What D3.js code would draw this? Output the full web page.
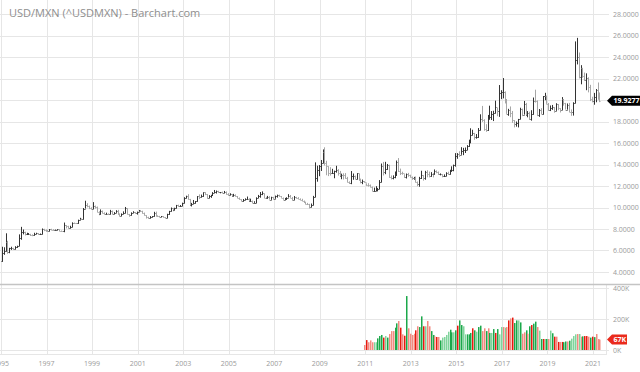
<!DOCTYPE html>
<html>
<head>
<meta charset="utf-8">
<script src="https://cdn.jsdelivr.net/npm/d3@7"></script>
<style>
  body { margin: 0; background: #fff; }
  svg { display: block; font-family: "Open Sans", sans-serif; }
</style>
</head>
<body>
<div id="chart"></div>
<script>
// monthly USD/MXN, Jan 1995 .. Apr 2021 (open = previous close)
const firstOpen = 5.0
const closes = [
  5.78, 5.94, 6.79, 5.85, 6.22, 6.23, 6.13, 6.30, 6.44, 7.13, 7.70, 7.70,
  7.53, 7.55, 7.56, 7.41, 7.40, 7.58, 7.60, 7.50, 7.53, 7.96, 7.91, 7.85,
  7.81, 7.96, 7.94, 7.90, 7.91, 7.96, 7.85, 7.80, 7.79, 8.36, 8.28, 8.07,
  8.18, 8.57, 8.54, 8.52, 8.84, 8.90, 8.89, 9.90, 10.22, 10.14, 9.94, 9.90,
  10.10, 10.05, 9.60, 9.35, 9.70, 9.50, 9.39, 9.40, 9.37, 9.66, 9.42, 9.51,
  9.72, 9.37, 9.24, 9.42, 9.47, 9.92, 9.37, 9.26, 9.51, 9.60, 9.50, 9.61,
  9.69, 9.66, 9.49, 9.27, 9.08, 9.06, 9.14, 9.18, 9.52, 9.24, 9.21, 9.16,
  9.17, 9.11, 9.03, 9.38, 9.65, 9.96, 9.80, 9.94, 10.24, 10.16, 10.16, 10.40,
  10.90, 11.04, 10.79, 10.27, 10.33, 10.45, 10.56, 11.06, 11.00, 11.08, 11.40, 11.24,
  10.92, 11.08, 11.16, 11.39, 11.43, 11.52, 11.40, 11.40, 11.38, 11.47, 11.22, 11.15,
  11.21, 11.09, 11.18, 11.06, 10.91, 10.75, 10.60, 10.73, 10.79, 10.80, 10.62, 10.63,
  10.44, 10.45, 10.89, 11.09, 11.30, 11.32, 10.89, 10.88, 10.99, 10.74, 10.95, 10.82,
  11.04, 11.16, 11.03, 10.92, 10.73, 10.80, 10.92, 11.04, 10.93, 10.71, 10.96, 10.92,
  10.82, 10.73, 10.63, 10.52, 10.32, 10.31, 10.02, 10.26, 10.96, 12.72, 13.49, 13.83,
  14.15, 15.13, 14.17, 13.83, 13.18, 13.17, 13.18, 13.42, 13.50, 13.19, 12.93, 13.06,
  13.01, 12.77, 12.37, 12.27, 12.91, 12.93, 12.67, 13.17, 12.59, 12.35, 12.48, 12.36,
  12.12, 12.08, 11.91, 11.53, 11.56, 11.72, 11.75, 12.36, 13.88, 13.26, 13.62, 13.95,
  12.86, 12.78, 12.81, 13.03, 14.26, 13.37, 13.25, 13.20, 12.85, 13.09, 12.99, 12.85,
  12.71, 12.78, 12.35, 12.16, 12.78, 12.99, 12.76, 13.31, 13.11, 12.89, 13.10, 13.08,
  13.36, 13.27, 13.07, 13.11, 12.89, 12.97, 13.22, 13.07, 13.43, 13.45, 13.91, 14.75,
  15.00, 14.93, 15.26, 15.35, 15.38, 15.71, 16.12, 16.75, 16.91, 16.54, 16.57, 17.25,
  18.20, 18.14, 17.28, 17.18, 18.46, 18.46, 18.74, 18.82, 19.39, 18.94, 20.62, 20.73,
  20.77, 19.98, 18.72, 19.06, 18.82, 18.12, 17.79, 17.82, 18.20, 19.16, 18.61, 19.66,
  18.60, 18.82, 18.20, 18.71, 19.93, 19.90, 18.60, 19.10, 18.71, 20.34, 20.37, 19.65,
  19.04, 19.27, 19.39, 18.98, 19.62, 19.22, 19.06, 20.11, 19.70, 19.11, 19.55, 18.92,
  18.84, 19.76, 23.70, 24.02, 22.18, 22.99, 22.24, 21.86, 22.09, 21.20, 20.11, 19.91,
  20.26, 20.89, 20.43, 19.93
]
const highs = [
  6.35, 6.30, 7.60, 6.90, 6.25, 6.35, 6.25, 6.40, 6.45, 7.50, 8.20, 7.95,
  7.75, 7.65, 7.62, 7.55, 7.50, 7.65, 7.65, 7.62, 7.58, 8.05, 8.02, 7.95,
  7.92, 8.00, 8.02, 7.98, 7.95, 7.98, 7.97, 7.86, 7.82, 8.60, 8.35, 8.30,
  8.30, 8.62, 8.60, 8.56, 8.87, 9.04, 8.97, 9.95, 10.63, 10.40, 10.18, 10.02,
  10.50, 10.18, 10.09, 9.65, 9.82, 9.72, 9.55, 9.52, 9.45, 9.78, 9.72, 9.57,
  9.75, 9.78, 9.45, 9.45, 9.64, 10.05, 9.93, 9.40, 9.55, 9.65, 9.58, 9.62,
  9.77, 9.77, 9.70, 9.53, 9.28, 9.14, 9.20, 9.20, 9.60, 9.62, 9.27, 9.22,
  9.21, 9.19, 9.11, 9.42, 9.69, 10.00, 9.96, 9.98, 10.24, 10.26, 10.23, 10.45,
  10.96, 11.10, 11.24, 10.80, 10.43, 10.70, 10.60, 11.06, 11.22, 11.20, 11.40, 11.42,
  11.25, 11.15, 11.18, 11.43, 11.63, 11.58, 11.55, 11.44, 11.48, 11.54, 11.50, 11.33,
  11.32, 11.25, 11.27, 11.22, 11.07, 10.93, 10.77, 10.79, 10.85, 11.02, 10.86, 10.82,
  10.65, 10.58, 10.95, 11.17, 11.44, 11.50, 11.30, 10.99, 11.08, 11.06, 11.00, 10.99,
  11.11, 11.20, 11.19, 11.07, 10.93, 10.89, 10.95, 11.24, 11.16, 10.98, 11.07, 10.99,
  10.96, 10.85, 10.81, 10.65, 10.54, 10.43, 10.34, 10.37, 11.08, 14.20, 13.89, 13.95,
  14.42, 15.40, 15.60, 14.35, 13.84, 13.75, 13.60, 13.43, 13.88, 13.57, 13.40, 13.15,
  13.18, 13.20, 12.85, 12.43, 13.39, 13.16, 12.97, 13.19, 13.14, 12.69, 12.60, 12.45,
  12.25, 12.26, 12.14, 11.95, 11.85, 11.98, 11.82, 12.55, 14.09, 14.24, 14.25, 14.05,
  13.98, 12.98, 12.99, 13.35, 14.37, 14.60, 13.62, 13.33, 13.10, 13.16, 13.22, 13.05,
  12.88, 12.85, 12.88, 12.42, 12.85, 13.42, 13.01, 13.41, 13.47, 13.34, 13.29, 13.21,
  13.54, 13.45, 13.35, 13.17, 13.10, 13.08, 13.28, 13.33, 13.51, 13.83, 13.99, 15.06,
  15.06, 15.23, 15.61, 15.55, 15.58, 15.80, 16.31, 17.37, 17.23, 16.94, 16.83, 17.39,
  18.67, 19.45, 18.21, 17.75, 18.61, 19.47, 18.97, 19.00, 19.94, 19.25, 21.39, 20.91,
  22.04, 20.80, 20.09, 19.18, 19.40, 18.98, 18.12, 18.00, 18.24, 19.28, 19.20, 19.91,
  19.73, 18.97, 18.91, 19.05, 20.23, 20.96, 19.96, 19.16, 19.24, 20.37, 20.67, 20.41,
  19.72, 19.49, 19.54, 19.34, 19.70, 19.62, 19.24, 20.27, 19.98, 19.73, 19.68, 19.73,
  19.12, 19.79, 25.45, 25.78, 24.42, 23.24, 22.99, 22.55, 22.48, 22.11, 21.41, 20.30,
  20.66, 21.02, 21.63, 20.70
]
const lows = [
  4.95, 5.60, 5.90, 5.70, 5.75, 6.05, 6.05, 6.10, 6.25, 6.40, 7.00, 7.50,
  7.40, 7.45, 7.48, 7.35, 7.33, 7.38, 7.52, 7.45, 7.45, 7.50, 7.80, 7.80,
  7.76, 7.78, 7.90, 7.86, 7.86, 7.88, 7.80, 7.76, 7.74, 7.70, 8.05, 8.03,
  8.05, 8.17, 8.48, 8.48, 8.48, 8.82, 8.85, 8.88, 9.90, 10.02, 9.85, 9.82,
  9.86, 9.90, 9.56, 9.28, 9.34, 9.46, 9.36, 9.36, 9.32, 9.35, 9.36, 9.38,
  9.50, 9.34, 9.17, 9.20, 9.38, 9.46, 9.35, 9.14, 9.25, 9.50, 9.43, 9.34,
  9.58, 9.61, 9.43, 9.25, 8.97, 8.95, 8.98, 9.08, 9.15, 9.20, 9.15, 9.10,
  9.12, 9.06, 9.00, 9.01, 9.32, 9.62, 9.65, 9.75, 9.91, 10.06, 10.06, 10.13,
  10.38, 10.85, 10.74, 10.25, 10.10, 10.34, 10.37, 10.54, 10.78, 10.94, 11.00, 11.15,
  10.81, 10.87, 10.90, 11.07, 11.35, 11.30, 11.37, 11.32, 11.33, 11.34, 11.20, 11.10,
  11.14, 11.04, 11.04, 11.02, 10.87, 10.73, 10.58, 10.55, 10.68, 10.73, 10.56, 10.55,
  10.42, 10.43, 10.42, 10.88, 10.91, 11.15, 10.88, 10.83, 10.82, 10.73, 10.71, 10.75,
  10.81, 10.92, 10.99, 10.90, 10.72, 10.72, 10.72, 10.92, 10.90, 10.64, 10.70, 10.83,
  10.80, 10.70, 10.61, 10.43, 10.30, 10.23, 9.91, 10.02, 10.20, 10.96, 12.40, 12.91,
  13.40, 14.11, 13.90, 13.00, 12.92, 12.97, 13.13, 12.72, 13.24, 12.97, 12.86, 12.63,
  12.61, 12.68, 12.34, 12.19, 12.17, 12.58, 12.63, 12.61, 12.52, 12.25, 12.17, 12.32,
  12.02, 11.94, 11.89, 11.50, 11.48, 11.53, 11.50, 11.71, 12.34, 12.98, 13.10, 13.50,
  12.76, 12.61, 12.62, 12.72, 12.95, 13.31, 13.02, 13.05, 12.75, 12.70, 12.86, 12.80,
  12.57, 12.58, 12.33, 11.98, 11.93, 12.65, 12.50, 12.58, 12.81, 12.80, 12.86, 12.80,
  13.05, 13.19, 13.03, 12.99, 12.81, 12.84, 12.91, 13.04, 13.06, 13.34, 13.37, 13.80,
  14.53, 14.71, 14.90, 14.87, 15.07, 15.34, 15.64, 15.97, 16.71, 16.30, 16.40, 16.48,
  17.17, 17.96, 17.14, 17.04, 17.13, 18.16, 18.14, 18.04, 18.75, 18.49, 18.43, 20.08,
  20.15, 19.68, 18.71, 18.53, 18.40, 17.87, 17.45, 17.52, 17.45, 18.20, 18.50, 18.64,
  18.56, 18.39, 18.14, 18.08, 18.63, 19.76, 18.50, 18.43, 18.69, 18.65, 19.98, 19.64,
  18.99, 18.97, 19.08, 18.82, 18.99, 19.05, 18.84, 19.07, 19.48, 19.11, 19.10, 18.88,
  18.53, 18.55, 19.69, 23.31, 22.01, 21.46, 22.07, 21.78, 20.91, 20.71, 19.90, 19.78,
  19.56, 19.79, 20.02, 19.80
]

// monthly volume in thousands, Dec 2010 .. Apr 2021
const volumes = [
  32, 64, 50, 62, 50, 50, 50, 75, 90, 97, 80, 90, 80, 103, 122, 122,
  144, 172, 187, 144, 101, 92, 348, 140, 105, 97, 105, 127, 153, 148, 217, 153,
  153, 187, 153, 122, 97, 88, 84, 84, 62, 80, 84, 97, 118, 131, 114, 114,
  127, 157, 191, 161, 153, 101, 101, 101, 110, 140, 127, 118, 148, 157, 122, 140,
  122, 140, 110, 110, 135, 110, 135, 101, 148, 148, 144, 148, 191, 204, 209, 174,
  191, 191, 178, 105, 114, 127, 105, 153, 161, 170, 183, 148,
  125, 71, 71, 71, 71, 71, 125, 108, 86, 86, 52, 52, 52, 50, 55, 55,
  60, 73, 90, 101, 103, 103, 86, 88, 90, 90, 86, 80, 86, 83, 103, 71, 67
]
// U/u = up (strong/weak), D/d = down (strong/weak)
const volTrend = [
  "d", "D", "d", "d", "d", "u", "u", "U", "U", "U", "D", "u", "U", "d", "d", "d",
  "U", "U", "d", "D", "d", "D", "U", "d", "d", "d", "d", "D", "d", "U", "U", "D",
  "u", "d", "d", "U", "U", "d", "D", "d", "U", "u", "u", "u", "u", "U", "U", "u",
  "U", "D", "U", "U", "u", "u", "U", "U", "U", "D", "U", "u", "U", "U", "d", "d",
  "U", "d", "U", "u", "U", "D", "U", "u", "u", "d", "u", "d", "D", "d", "D", "U",
  "U", "u", "U", "d", "d", "U", "d", "U", "D", "U", "U", "d",
  "u", "U", "D", "u", "U", "d", "u", "U", "D", "d", "D", "d", "D", "U", "U", "d",
  "U", "u", "u", "u", "d", "u", "d", "U", "D", "D", "d", "U", "D", "U", "d", "d", "d"
]

const priceTicks = [4, 6, 8, 10, 12, 14, 16, 18, 20, 22, 24, 26, 28]
const volTicks = [0, 200, 400]
const yearTicks = [1995, 1997, 1999, 2001, 2003, 2005, 2007, 2009, 2011, 2013, 2015, 2017, 2019, 2021]
const lastPrice = 19.9277
const lastVolume = 67

const width = 640, height = 372

const x = d3.scaleTime()
  .domain([new Date(1995, 0, 1), new Date(2021, 0, 1)])
  .range([1, 593])
const y = d3.scaleLinear().domain([4, 28]).range([272, 14])
const yv = d3.scaleLinear().domain([0, 400]).range([350, 288])
const trendColor = d3.scaleOrdinal()
  .domain(["U", "u", "D", "d"])
  .range(["#1ba84a", "#7fd49b", "#e8190f", "#f28a80"])

const bars = closes.map((c, i) => ({
  date: new Date(1995, i, 15),
  open: i ? closes[i - 1] : firstOpen,
  high: highs[i],
  low: lows[i],
  close: c
}))
const vbars = volumes.map((v, i) => ({
  date: new Date(2010, 11 + i, 15),
  value: v,
  trend: volTrend[i]
}))

const snap = v => Math.round(v) + 0.5

const svg = d3.select("#chart").append("svg")
  .attr("width", width)
  .attr("height", height)

const grid = svg.append("g")
  .attr("stroke", "#e6e6e6")
  .attr("stroke-width", 1)

grid.selectAll(".vgrid")
  .data(yearTicks)
  .join("line")
    .attr("class", "vgrid")
    .attr("x1", d => snap(x(new Date(d, 0, 1))))
    .attr("x2", d => snap(x(new Date(d, 0, 1))))
    .attr("y1", 0)
    .attr("y2", 354)

grid.selectAll(".pgrid")
  .data(priceTicks)
  .join("line")
    .attr("class", "pgrid")
    .attr("x1", 0)
    .attr("x2", 609)
    .attr("y1", d => snap(y(d)))
    .attr("y2", d => snap(y(d)))

grid.selectAll(".vgridh")
  .data(volTicks)
  .join("line")
    .attr("class", "vgridh")
    .attr("x1", 0)
    .attr("x2", 609)
    .attr("y1", d => snap(yv(d)))
    .attr("y2", d => snap(yv(d)))

grid.append("line")
  .attr("x1", 0).attr("x2", 607)
  .attr("y1", 354.5).attr("y2", 354.5)

grid.append("line")
  .attr("x1", 606.5).attr("x2", 606.5)
  .attr("y1", 285).attr("y2", 355)

// panel divider
svg.append("line")
  .attr("x1", 0).attr("x2", 640)
  .attr("y1", 284.5).attr("y2", 284.5)
  .attr("stroke", "#c4c4c4")
  .attr("stroke-width", 1.5)

svg.append("text")
  .attr("x", 9)
  .attr("y", 17)
  .attr("font-size", 11)
  .attr("fill", "#8e8e8e")
  .text("USD/MXN (^USDMXN) - Barchart.com")

// OHLC bars
const ohlc = svg.append("g")
  .selectAll("g")
  .data(bars)
  .join("g")
    .attr("stroke", d => d.close >= d.open ? "#333" : "#a6a6a6")
    .attr("stroke-width", 1)

ohlc.append("line")
  .attr("x1", d => snap(x(d.date)))
  .attr("x2", d => snap(x(d.date)))
  .attr("y1", d => y(d.high))
  .attr("y2", d => y(d.low))

ohlc.append("line")
  .attr("x1", d => snap(x(d.date)) - 1)
  .attr("x2", d => snap(x(d.date)))
  .attr("y1", d => snap(y(d.open)))
  .attr("y2", d => snap(y(d.open)))

ohlc.append("line")
  .attr("x1", d => snap(x(d.date)))
  .attr("x2", d => snap(x(d.date)) + 1)
  .attr("y1", d => snap(y(d.close)))
  .attr("y2", d => snap(y(d.close)))

// volume bars
svg.append("g")
  .selectAll("rect")
  .data(vbars)
  .join("rect")
    .attr("x", d => Math.round(x(d.date)))
    .attr("width", 1.5)
    .attr("y", d => yv(d.value))
    .attr("height", d => yv(0) - yv(d.value))
    .attr("fill", d => trendColor(d.trend))

const axisText = svg.append("g")
  .attr("font-size", 7)
  .attr("fill", "#9a9a9a")

axisText.selectAll(".py")
  .data(priceTicks)
  .join("text")
    .attr("class", "py")
    .attr("x", 613)
    .attr("y", d => y(d) + 2.5)
    .text(d => d3.format(".4f")(d))

axisText.selectAll(".vy")
  .data(volTicks)
  .join("text")
    .attr("class", "vy")
    .attr("x", 613)
    .attr("y", d => yv(d) + 2.5)
    .text(d => d + "K")

axisText.selectAll(".xt")
  .data(yearTicks)
  .join("text")
    .attr("class", "xt")
    .attr("x", d => x(new Date(d, 0, 1)))
    .attr("y", 366)
    .attr("text-anchor", "middle")
    .text(d => d)

// last value markers
function marker(yPos, right, fill, label) {
  const g = svg.append("g")
  g.append("path")
    .attr("d", `M607,${yPos} L612,${yPos - 5} L${right},${yPos - 5} L${right},${yPos + 5} L612,${yPos + 5} Z`)
    .attr("fill", fill)
  g.append("text")
    .attr("x", 613.5)
    .attr("y", yPos + 2.5)
    .attr("font-size", 7)
    .attr("font-weight", "bold")
    .attr("fill", "#fff")
    .text(label)
}
marker(y(lastPrice), 640, "#000", d3.format(".4f")(lastPrice))
marker(yv(lastVolume), 627, "#ea2a1c", lastVolume + "K")
</script>
</body>
</html>
